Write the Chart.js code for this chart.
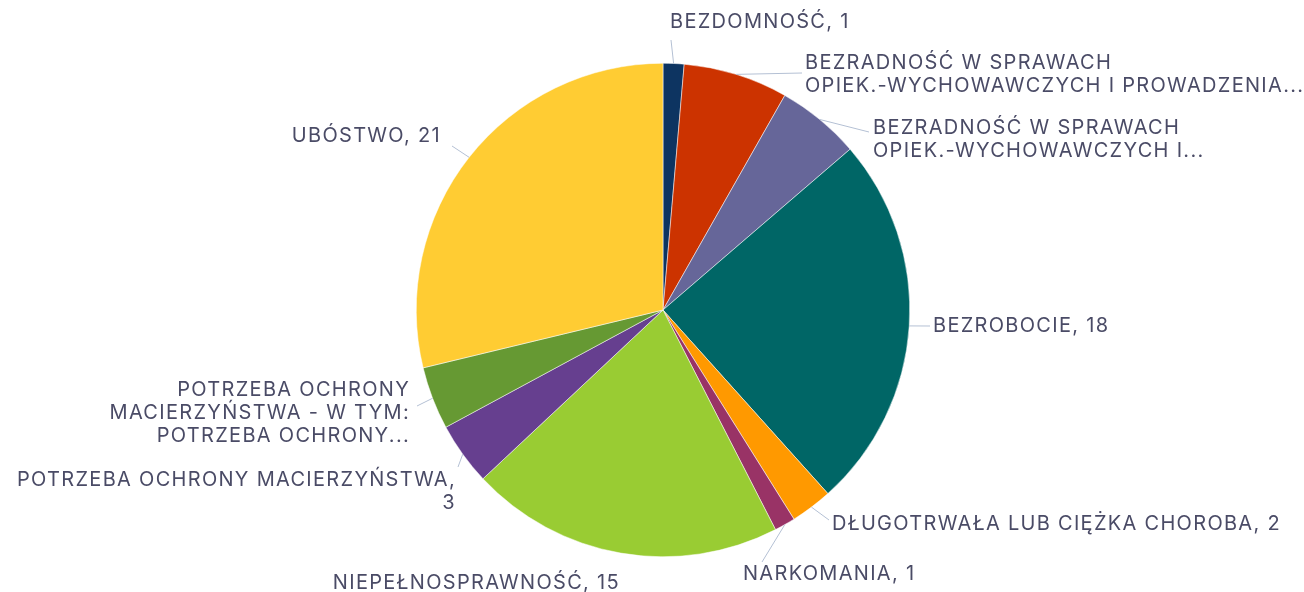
<!DOCTYPE html>
<html>
<head>
<meta charset="utf-8">
<script src="https://cdn.jsdelivr.net/npm/chart.js@4"></script>
<style>
  html, body { margin: 0; padding: 0; background: #fff; }
  #wrap { width: 1304px; height: 592px; }
</style>
</head>
<body>
<div id="wrap"><canvas id="pieChart"></canvas></div>
<script>
// === Dane ===
const categories = [
    ["BEZDOMNOŚĆ"],
    ["BEZRADNOŚĆ W SPRAWACH", "OPIEK.-WYCHOWAWCZYCH I PROWADZENIA..."],
    ["BEZRADNOŚĆ W SPRAWACH", "OPIEK.-WYCHOWAWCZYCH I..."],
    ["BEZROBOCIE"],
    ["DŁUGOTRWAŁA LUB CIĘŻKA CHOROBA"],
    ["NARKOMANIA"],
    ["NIEPEŁNOSPRAWNOŚĆ"],
    ["POTRZEBA OCHRONY MACIERZYŃSTWA"],
    ["POTRZEBA OCHRONY", "MACIERZYŃSTWA - W TYM:", "POTRZEBA OCHRONY..."],
    ["UBÓSTWO"],
];
const values = [1, 5, 4, 18, 2, 1, 15, 3, 3, 21];
const colors = ["#0d3461", "#cc3300", "#666699", "#006666", "#ff9900",
    "#993366", "#99cc33", "#663f8f", "#669933", "#ffcc33"];

// === Rozmieszczenie etykiet (x, y tekstu, wyrównanie, koniec linii) ===
const labelLayout = [
    { x: 670, y: 22, align: "left", end: [671, 40] },
    { x: 805, y: 63, align: "left", end: [802, 73] },
    { x: 873, y: 128, align: "left", end: [869, 132] },
    { x: 933, y: 326, align: "left", end: [930, 326] },
    { x: 832, y: 524, align: "left", end: [829, 520] },
    { x: 743, y: 574, align: "left", end: [762, 562] },
    { x: 620, y: 583, align: "right", end: null },
    { x: 456, y: 480, align: "right", end: [458, 467], valueOwnLine: true },
    { x: 410, y: 390, align: "right", end: [417, 406] },
    { x: 441, y: 136, align: "right", end: [452, 146] },
];

const outsideLabels = {
    id: "outsideLabels",
    afterDatasetsDraw(chart) {
        const ctx = chart.ctx;
        const arcs = chart.getDatasetMeta(0).data;
        ctx.save();
        ctx.font = "20px Inter";
        ctx.letterSpacing = "1.3px";
        ctx.fillStyle = "#4a4b66";
        ctx.strokeStyle = "#b4c0d4";
        ctx.lineWidth = 1;
        ctx.textBaseline = "middle";
        arcs.forEach((arc, i) => {
            const lay = labelLayout[i];
            const mid = (arc.startAngle + arc.endAngle) / 2;
            const ax = arc.x + Math.cos(mid) * arc.outerRadius;
            const ay = arc.y + Math.sin(mid) * arc.outerRadius;
            if (lay.end) {
                ctx.beginPath();
                ctx.moveTo(ax, ay);
                ctx.lineTo(lay.end[0], lay.end[1]);
                ctx.stroke();
            }
            const lines = categories[i].slice();
            const last = lines[lines.length - 1];
            if (!last.endsWith("...")) {
                if (lay.valueOwnLine) {
                    lines[lines.length - 1] = last + ",";
                    lines.push(String(values[i]));
                } else {
                    lines[lines.length - 1] = last + ", " + values[i];
                }
            }
            ctx.textAlign = lay.align;
            lines.forEach((t, k) => ctx.fillText(t, lay.x, lay.y + k * 23));
        });
        ctx.restore();
    },
};

const pieCtx = document.getElementById("pieChart").getContext("2d");
new Chart(pieCtx, {
    type: "pie",
    data: {
        labels: categories.map(c => c.join(" ")),
        datasets: [{
            data: values,
            backgroundColor: colors,
            borderColor: "#ffffff",
            borderWidth: 0.5,
        }, ],
    },
    options: {
        responsive: true,
        maintainAspectRatio: false,
        animation: false,
        layout: {
            padding: { top: 63, bottom: 35, left: 416, right: 394 },
        },
        plugins: {
            legend: { display: false },
            tooltip: { enabled: false },
        },
    },
    plugins: [outsideLabels],
});
</script>
</body>
</html>
